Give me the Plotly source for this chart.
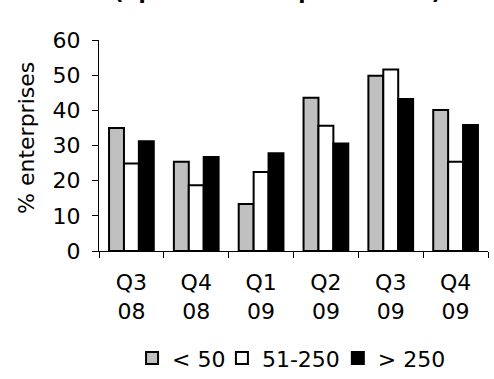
import plotly.graph_objects as go

# Quarters on the category axis (two-line tick labels)
quarters = ["Q3<br>08", "Q4<br>08", "Q1<br>09", "Q2<br>09", "Q3<br>09", "Q4<br>09"]

# Share of enterprises (%) by size class
small = [35.0, 25.4, 13.4, 43.6, 49.8, 40.1]     # < 50
medium = [24.9, 18.7, 22.5, 35.6, 51.6, 25.4]    # 51-250
large = [31.2, 26.7, 27.8, 30.6, 43.2, 35.8]     # > 250

series_names = ["< 50", "51-250", "> 250"]
series_values = [small, medium, large]
series_colors = ["#c0c0c0", "#ffffff", "#000000"]

title_text = "(up to 6 month predictions)"
y_title = "% enterprises"

FONT = "DejaVu Sans, Verdana, sans-serif"
FS = 22

# one legend box per series, laid out in a row under the axis
legend_ids = ["legend", "legend2", "legend3"]
legend_x = [0.085, 0.316, 0.614]

fig = go.Figure()
for name, vals, col, lid in zip(series_names, series_values, series_colors, legend_ids):
    fig.add_trace(go.Bar(
        x=quarters, y=vals, name=name, legend=lid,
        marker=dict(color=col, line=dict(color="#000000", width=2)),
    ))

legend_style = dict(
    orientation="h", xanchor="left", yref="container", y=0.055, yanchor="middle",
    font=dict(family=FONT, size=FS, color="#000000"),
    itemwidth=30, bgcolor="rgba(0,0,0,0)", borderwidth=0,
)

fig.update_layout(
    width=494, height=379,
    margin=dict(l=99, r=6, t=40, b=128),
    paper_bgcolor="white", plot_bgcolor="white",
    font=dict(family=FONT, size=FS, color="#000000"),
    barmode="group", bargap=0.31, bargroupgap=0,
    showlegend=True,
    legend=dict(x=legend_x[0], **legend_style),
    legend2=dict(x=legend_x[1], **legend_style),
    legend3=dict(x=legend_x[2], **legend_style),
    xaxis=dict(
        type="category", showline=True, linecolor="#000000", linewidth=1,
        ticks="outside", tickson="boundaries", ticklen=6, tickcolor="#000000",
        showgrid=False, zeroline=False, ticklabelstandoff=12, automargin=False,
        tickfont=dict(family=FONT, size=FS, color="#000000"),
    ),
    yaxis=dict(
        range=[0, 60], dtick=10, showline=True, linecolor="#000000", linewidth=1,
        ticks="outside", ticklen=6, tickcolor="#000000", automargin=False,
        showgrid=False, zeroline=False, ticklabelstandoff=7,
        tickfont=dict(family=FONT, size=FS, color="#000000"),
    ),
)

# Y-axis title
fig.add_annotation(
    text=y_title, xref="paper", yref="paper", x=-0.185, y=0.536,
    xanchor="center", yanchor="middle", textangle=-90, showarrow=False,
    font=dict(family=FONT, size=FS, color="#000000"),
)

# Bold subtitle sitting above the plot area
fig.add_annotation(
    text="<b>" + title_text + "</b>", xref="paper", yref="paper",
    x=0.458, y=1, xanchor="center", yanchor="bottom", yshift=34,
    showarrow=False, font=dict(family=FONT, size=21, color="#000000"),
)

fig.write_html("out.html")
